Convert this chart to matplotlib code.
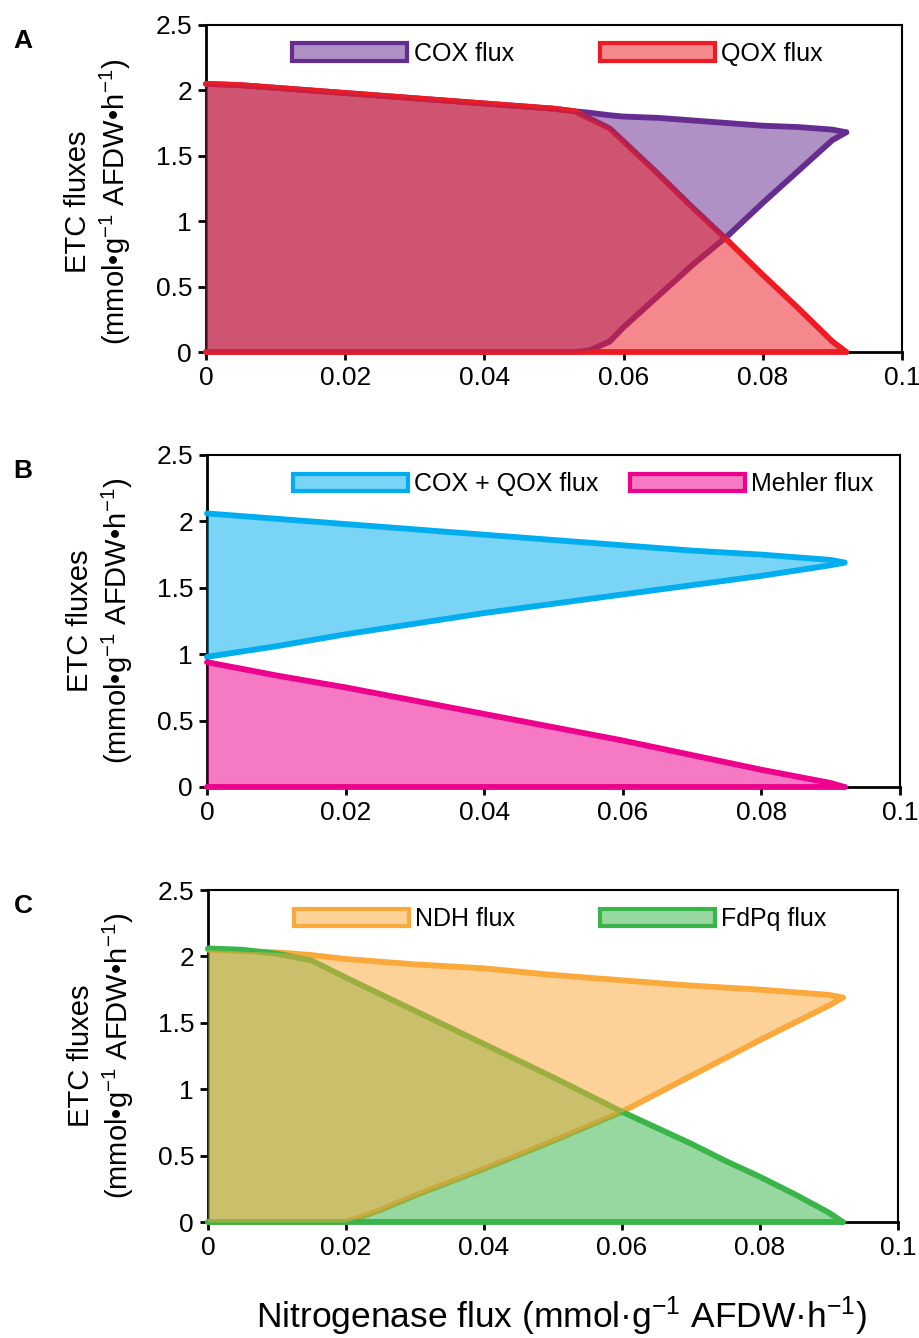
import matplotlib
matplotlib.use("Agg")
import matplotlib.pyplot as plt
from matplotlib.patches import Patch
from matplotlib.ticker import FixedLocator, FixedFormatter

plt.rcParams['font.family'] = ['Liberation Sans', 'DejaVu Sans']
plt.rcParams['mathtext.fontset'] = 'custom'
plt.rcParams['mathtext.rm'] = 'Liberation Sans'
plt.rcParams['mathtext.it'] = 'Liberation Sans'

# ---- data ----
# panel A
x_cox = [0, 0.005, 0.01, 0.015, 0.02, 0.025, 0.03, 0.035, 0.04, 0.045, 0.05, 0.053,
         0.055, 0.058, 0.06, 0.065, 0.07, 0.075, 0.08, 0.085, 0.09, 0.092]
cox_max = [2.05, 2.04, 2.02, 2.00, 1.98, 1.96, 1.94, 1.92, 1.90, 1.88, 1.86, 1.84,
           1.83, 1.81, 1.80, 1.79, 1.77, 1.75, 1.73, 1.72, 1.70, 1.68]
cox_min = [0, 0, 0, 0, 0, 0, 0, 0, 0, 0, 0, 0,
           0.01, 0.08, 0.19, 0.43, 0.67, 0.89, 1.14, 1.38, 1.62, 1.68]
x_qox = [0, 0.005, 0.01, 0.015, 0.02, 0.025, 0.03, 0.035, 0.04, 0.045, 0.05, 0.053,
         0.058, 0.06, 0.065, 0.07, 0.075, 0.08, 0.085, 0.09, 0.092]
qox_max = [2.05, 2.04, 2.02, 2.00, 1.98, 1.96, 1.94, 1.92, 1.90, 1.88, 1.86, 1.84,
           1.71, 1.61, 1.36, 1.10, 0.85, 0.59, 0.34, 0.08, 0]
qox_min = [0] * len(x_qox)

# panel B
x_b = [0, 0.01, 0.02, 0.03, 0.04, 0.05, 0.06, 0.07, 0.08, 0.085, 0.09, 0.092]
tot_max = [2.06, 2.02, 1.98, 1.94, 1.90, 1.86, 1.82, 1.78, 1.75, 1.73, 1.71, 1.69]
tot_min = [0.98, 1.06, 1.15, 1.23, 1.31, 1.38, 1.45, 1.52, 1.59, 1.63, 1.67, 1.69]
mehler_max = [0.94, 0.84, 0.75, 0.65, 0.55, 0.45, 0.35, 0.24, 0.13, 0.08, 0.03, 0]
mehler_min = [0] * len(x_b)

# panel C
x_ndh = [0, 0.005, 0.01, 0.015, 0.02, 0.025, 0.03, 0.04, 0.05, 0.06, 0.07, 0.08,
         0.085, 0.09, 0.092]
ndh_max = [2.05, 2.04, 2.03, 2.01, 1.98, 1.96, 1.94, 1.91, 1.86, 1.82, 1.78, 1.75,
           1.73, 1.71, 1.69]
ndh_min = [0, 0, 0, 0, 0, 0.09, 0.2, 0.4, 0.61, 0.83, 1.10, 1.37, 1.50, 1.63, 1.69]
x_fdpq = [0, 0.005, 0.01, 0.015, 0.02, 0.03, 0.04, 0.05, 0.06, 0.065, 0.07, 0.075,
          0.08, 0.085, 0.09, 0.092]
fdpq_max = [2.06, 2.05, 2.02, 1.97, 1.84, 1.59, 1.34, 1.09, 0.83, 0.71, 0.59, 0.46,
            0.34, 0.21, 0.07, 0]
fdpq_min = [0] * len(x_fdpq)

xticks = [0, 0.02, 0.04, 0.06, 0.08, 0.1]
xticklabels = ['0', '0.02', '0.04', '0.06', '0.08', '0.1']
yticks = [0, 0.5, 1, 1.5, 2, 2.5]
yticklabels = ['0', '0.5', '1', '1.5', '2', '2.5']

# series are listed in fill order (later = on top); line_z sets which outline wins
panels = [
    dict(letter='A', rect=[206, 25, 902, 352], ylab_y=0.46, colsp=3.45, line_z=[3.0, 3.1],
         series=[('COX flux', '#662D91', x_cox, cox_min, cox_max),
                 ('QOX flux', '#ED1C24', x_qox, qox_min, qox_max)]),
    dict(letter='B', rect=[207, 455, 900, 787], ylab_y=0.5, colsp=1.25, line_z=[3.0, 3.1],
         series=[('COX + QOX flux', '#00AEEF', x_b, tot_min, tot_max),
                 ('Mehler flux', '#EC008C', x_b, mehler_min, mehler_max)]),
    dict(letter='C', rect=[208, 890, 898, 1222], ylab_y=0.5, colsp=3.4, line_z=[3.1, 3.0],
         series=[('FdPq flux', '#39B54A', x_fdpq, fdpq_min, fdpq_max),
                 ('NDH flux', '#FAA93A', x_ndh, ndh_min, ndh_max)]),
]

W, H = 920, 1338
fig = plt.figure(figsize=(W / 100, H / 100), dpi=100)

for p in panels:
    l, t, r, b = p['rect']
    ax = fig.add_axes([l / W, 1 - b / H, (r - l) / W, (b - t) / H])
    names, cols = [], []
    for i, (name, col, xs, lo, hi) in enumerate(p['series']):
        # outlines first, translucent fills over them
        z = p['line_z'][i]
        ax.plot(xs, hi, color=col, lw=4.2, zorder=z, clip_on=False, solid_capstyle='round')
        ax.plot(xs, lo, color=col, lw=4.2, zorder=z, clip_on=False, solid_capstyle='round')
        ax.fill_between(xs, lo, hi, color=col, alpha=0.52, lw=0, zorder=4 + i)
        names.append(name)
        cols.append(col)
    if p['letter'] == 'C':  # legend order in the figure: NDH first
        names, cols = names[::-1], cols[::-1]
    leg_handles = [Patch(facecolor=matplotlib.colors.to_rgba(c, 0.52), edgecolor=c, lw=3)
                   for c in cols]
    ax.legend(leg_handles, names, loc='upper left',
              bbox_to_anchor=(0.124, 0.948), ncol=2, frameon=False, fontsize=18,
              handlelength=4.6, handleheight=0.72, handletextpad=0.25,
              columnspacing=p['colsp'], borderpad=0, borderaxespad=0)

    ax.set_xlim(0, 0.1)
    ax.set_ylim(0, 2.5)
    ax.xaxis.set_major_locator(FixedLocator(xticks))
    ax.xaxis.set_major_formatter(FixedFormatter(xticklabels))
    ax.yaxis.set_major_locator(FixedLocator(yticks))
    ax.yaxis.set_major_formatter(FixedFormatter(yticklabels))
    ax.tick_params(direction='out', length=6, width=2, labelsize=19, pad=4)
    for s in ['left', 'bottom']:
        ax.spines[s].set_linewidth(2)
    for s in ['top', 'right']:
        ax.spines[s].set_linewidth(1.5)

    ax.text(-0.154, p['ylab_y'], 'ETC fluxes\n(mmol\u2022g$^{-1}$ AFDW\u2022h$^{-1}$)',
            transform=ax.transAxes, rotation=90, ha='center', va='center',
            fontsize=21, linespacing=1.2, multialignment='center')
    fig.text(23 / W, 1 - (t + 16) / H, p['letter'], fontsize=19, fontweight='bold',
             ha='center', va='center')

fig.text(562 / W, 1 - 1316 / H, 'Nitrogenase flux (mmol\u00b7g$^{-1}$ AFDW\u00b7h$^{-1}$)',
         ha='center', va='center', fontsize=25.5)

fig.savefig('out.png', dpi=100)
